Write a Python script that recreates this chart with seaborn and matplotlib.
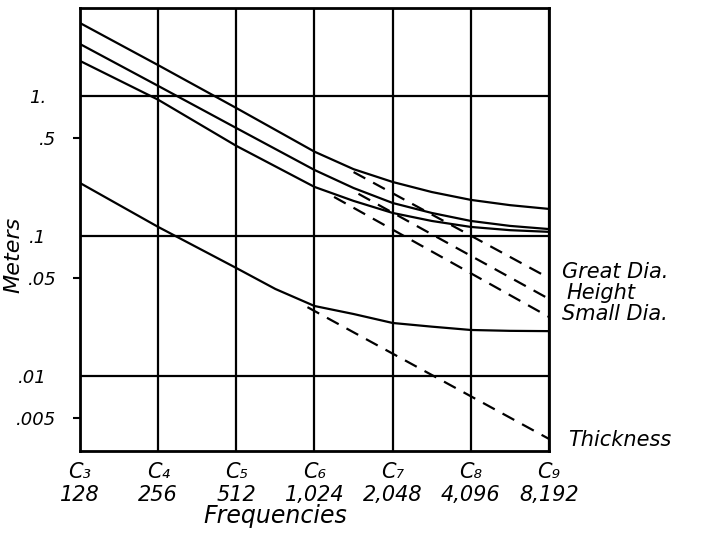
import matplotlib
matplotlib.use("Agg")
import pandas as pd
import matplotlib.pyplot as plt
import seaborn as sns
from matplotlib.ticker import FixedLocator, FixedFormatter, NullLocator

# octave ticks along the bottom
notes = ["C₃", "C₄", "C₅", "C₆", "C₇", "C₈", "C₉"]
freq_labels = ["128", "256", "512", "1,024", "2,048", "4,096", "8,192"]
octave_freqs = [128, 256, 512, 1024, 2048, 4096, 8192]

# solid curves, meters
freqs = [128, 256, 512, 1024, 1448, 2048, 2896, 4096, 5793, 8192]
great_dia = [3.32, 1.66, 0.82, 0.40, 0.30, 0.243, 0.206, 0.181, 0.166, 0.156]
height = [2.35, 1.18, 0.59, 0.296, 0.220, 0.172, 0.146, 0.128, 0.118, 0.112]
small_dia = [1.78, 0.94, 0.44, 0.224, 0.178, 0.146, 0.128, 0.116, 0.110, 0.107]
thick_freqs = [128, 256, 512, 724, 1024, 1448, 2048, 2896, 4096, 5793, 8192]
thickness = [0.239, 0.116, 0.059, 0.0418, 0.0316, 0.0277, 0.0239, 0.0225, 0.0213, 0.0210, 0.0209]

# dashed extensions (start, end)
dash_great_f = [1448, 8192]
dash_great = [0.286, 0.050]
dash_height_f = [1512, 8192]
dash_height = [0.200, 0.0355]
dash_small_f = [1218, 8192]
dash_small = [0.190, 0.0264]
dash_thick_f = [962, 8192]
dash_thick = [0.031, 0.00355]

curve_names = ["Great Dia.", "Height", "Small Dia.", "Thickness"]

y_major = [1, 0.1, 0.01]
y_major_labels = ["1.", ".1", ".01"]
y_minor = [0.5, 0.05, 0.005]
y_minor_labels = [".5", ".05", ".005"]

sns.set_style("white")
plt.rcParams["font.family"] = ["DejaVu Sans"]
plt.rcParams["font.style"] = "italic"
plt.rcParams["text.color"] = "black"
plt.rcParams["axes.labelcolor"] = "black"
plt.rcParams["xtick.color"] = "black"
plt.rcParams["ytick.color"] = "black"

fig = plt.figure(figsize=(7.04, 5.44), dpi=100)
ax = fig.add_axes([80 / 704, 1 - 451 / 544, 469 / 704, 443 / 544])

solid = [(freqs, great_dia), (freqs, height), (freqs, small_dia), (thick_freqs, thickness)]
for fx, vals in solid:
    df = pd.DataFrame({"f": fx, "m": vals})
    sns.lineplot(data=df, x="f", y="m", ax=ax, color="black", linewidth=1.6)

dashed = [(dash_great_f, dash_great), (dash_height_f, dash_height),
          (dash_small_f, dash_small), (dash_thick_f, dash_thick)]
for fx, vals in dashed:
    df = pd.DataFrame({"f": fx, "m": vals})
    sns.lineplot(data=df, x="f", y="m", ax=ax, color="black", linewidth=1.6,
                 linestyle=(0, (6, 4)))

ax.set_xscale("log", base=2)
ax.set_yscale("log")
ax.set_xlim(octave_freqs[0], octave_freqs[-1])
ax.set_ylim(0.00291, 4.25)

# x ticks: note over frequency
ax.xaxis.set_major_locator(FixedLocator(octave_freqs))
ax.xaxis.set_major_formatter(FixedFormatter([f"{n}\n{f}" for n, f in zip(notes, freq_labels)]))
ax.xaxis.set_minor_locator(NullLocator())
ax.tick_params(axis="x", which="major", length=0, pad=8, labelsize=15)

ax.yaxis.set_major_locator(FixedLocator(y_major))
ax.yaxis.set_major_formatter(FixedFormatter(y_major_labels))
ax.yaxis.set_minor_locator(FixedLocator(y_minor))
ax.yaxis.set_minor_formatter(FixedFormatter(y_minor_labels))
ax.tick_params(axis="y", which="major", length=0, pad=24, labelsize=13)
ax.tick_params(axis="y", which="minor", left=True, length=5, width=1.5, pad=12,
               labelsize=13, direction="out", color="black")

ax.grid(True, which="major", color="black", linewidth=1.6)
ax.grid(False, which="minor")
for s in ax.spines.values():
    s.set_visible(True)
    s.set_color("black")
    s.set_linewidth(2.0)

ax.set_xlabel("Frequencies", fontsize=17)
ax.set_ylabel("Meters", fontsize=16)
ax.xaxis.set_label_coords((275 - 80) / 469, -(504 - 451) / 443)
ax.yaxis.set_label_coords(-(80 - 23) / 469, (451 - 255) / 443)

# curve names at right end of the dashed lines
label_offsets = [(13, 6), (17, 6), (13, 3), (19, -1)]
for name, (fx, vals), (dx, dy) in zip(curve_names, dashed, label_offsets):
    ax.annotate(name, xy=(fx[-1], vals[-1]), xytext=(dx, dy), textcoords="offset pixels",
                ha="left", va="center", fontsize=15, annotation_clip=False)

fig.savefig("out.png", dpi=100)
